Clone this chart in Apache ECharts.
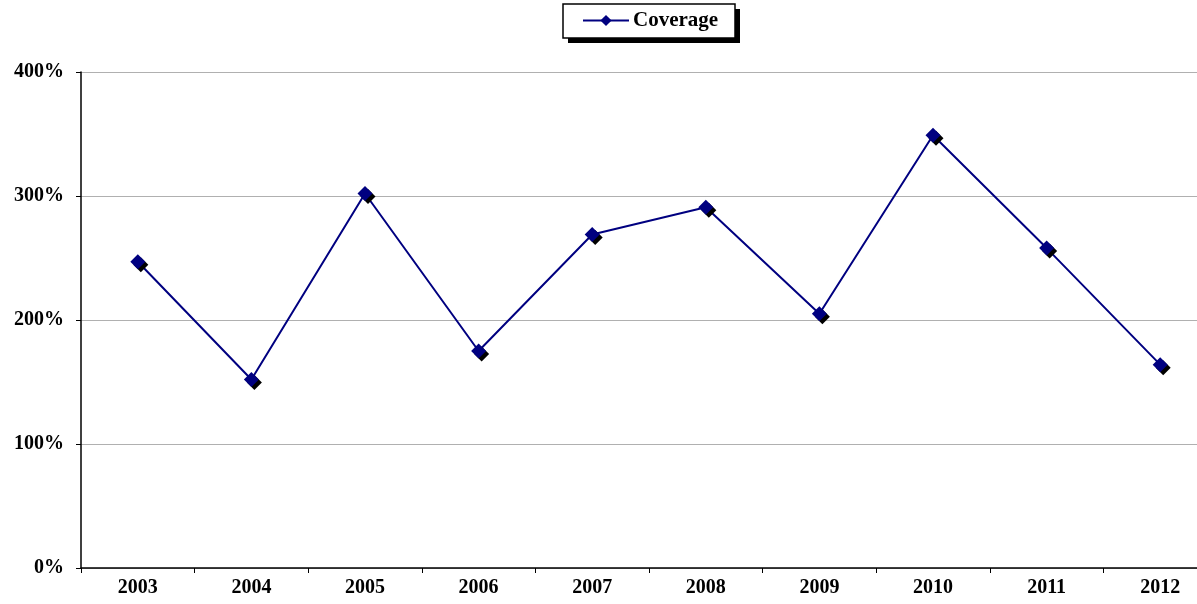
<!DOCTYPE html>
<html>
<head>
<meta charset="utf-8">
<script src="https://cdn.jsdelivr.net/npm/echarts@6/dist/echarts.min.js"></script>
<style>
  html, body { margin: 0; padding: 0; background: #fff; overflow: hidden; width: 1197px; height: 604px; }
  /* plot area runs slightly past the right edge of the window */
  #chart { width: 1217px; height: 604px; }
</style>
</head>
<body>
<div id="chart"></div>
<script>
// Yearly coverage ratio, in percent
const years = ['2003', '2004', '2005', '2006', '2007', '2008', '2009', '2010', '2011', '2012'];
const coverage = [247, 152, 302, 175, 269, 291, 205, 349, 258, 164];
const yTicks = [0, 100, 200, 300, 400];

const font = '"Liberation Serif", "Times New Roman", serif';
const chart = echarts.init(document.getElementById('chart'));

chart.setOption({
  animation: false,
  backgroundColor: '#fff',
  // framed legend box with a hard drop shadow
  graphic: [
    { type: 'rect', z: 0, shape: { x: 568, y: 9, width: 172, height: 34 }, style: { fill: '#000' } },
    { type: 'rect', z: 1, shape: { x: 563, y: 4, width: 172, height: 34 },
      style: { fill: '#fff', stroke: '#000', lineWidth: 1.5 } }
  ],
  legend: {
    top: 10,
    left: 582,
    padding: 0,
    z: 10,
    itemWidth: 46,
    itemHeight: 14,
    itemGap: 4,
    textStyle: { fontFamily: font, fontWeight: 'bold', fontSize: 21, color: '#000', padding: [0, 0, 0, -1] },
    data: [{ name: 'Coverage', itemStyle: { shadowBlur: 0, shadowOffsetX: 0, shadowOffsetY: 0, shadowColor: 'transparent' } }]
  },
  grid: { left: 81, right: 0, top: 72, bottom: 36, containLabel: false },
  xAxis: {
    type: 'category',
    data: years,
    boundaryGap: true,
    axisLine: { lineStyle: { color: '#000', width: 1.5 } },
    axisTick: { show: true, length: 5, lineStyle: { color: '#000' } },
    axisLabel: { fontFamily: font, fontWeight: 'bold', fontSize: 20, color: '#000', margin: 10 },
    splitLine: { show: false }
  },
  yAxis: {
    type: 'value',
    min: yTicks[0],
    max: yTicks[yTicks.length - 1],
    interval: yTicks[1] - yTicks[0],
    axisLine: { show: true, lineStyle: { color: '#000', width: 1.5 } },
    axisTick: { show: true, length: 5, lineStyle: { color: '#000' } },
    axisLabel: {
      fontFamily: font, fontWeight: 'bold', fontSize: 20, color: '#000', margin: 17,
      formatter: v => v + '%'
    },
    splitLine: { show: true, lineStyle: { color: '#b0b0b0', width: 1.2 } }
  },
  series: [{
    name: 'Coverage',
    type: 'line',
    data: coverage,
    symbol: 'diamond',
    symbolSize: 15,
    lineStyle: { color: '#000080', width: 2 },
    itemStyle: {
      color: '#000080',
      shadowColor: '#000',
      shadowBlur: 0.5,
      shadowOffsetX: 3,
      shadowOffsetY: 3
    }
  }]
});
</script>
</body>
</html>
